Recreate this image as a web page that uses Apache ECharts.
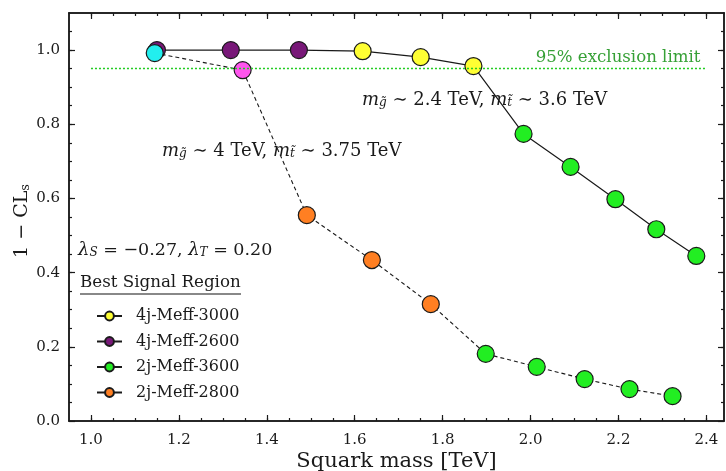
<!DOCTYPE html>
<html><head><meta charset="utf-8">
<script src="https://cdn.jsdelivr.net/npm/echarts@6/dist/echarts.min.js"></script>
<style>html,body{margin:0;padding:0;background:#fff}#c{width:726px;height:471px}</style>
</head><body><div id="c"></div>
<script>
// ---- data ----
const upperX = [1.150, 1.318, 1.473, 1.618, 1.750, 1.870, 1.984, 2.091, 2.193, 2.286, 2.377];
const upperY = [1.000, 1.000, 1.000, 0.997, 0.981, 0.957, 0.774, 0.685, 0.598, 0.517, 0.445];
const upperRegion = ['4j-Meff-2600','4j-Meff-2600','4j-Meff-2600','4j-Meff-3000','4j-Meff-3000','4j-Meff-3000',
  '2j-Meff-3600','2j-Meff-3600','2j-Meff-3600','2j-Meff-3600','2j-Meff-3600'];
const lowerX = [1.145, 1.345, 1.491, 1.639, 1.773, 1.898, 2.014, 2.123, 2.225, 2.323];
const lowerY = [0.992, 0.946, 0.555, 0.434, 0.315, 0.181, 0.146, 0.113, 0.086, 0.067];
const lowerRegion = ['other-cyan','other-magenta','2j-Meff-2800','2j-Meff-2800','2j-Meff-2800',
  '2j-Meff-3600','2j-Meff-3600','2j-Meff-3600','2j-Meff-3600','2j-Meff-3600'];
const legendRegions = ['4j-Meff-3000','4j-Meff-2600','2j-Meff-3600','2j-Meff-2800'];
const xTicks = [1.0, 1.2, 1.4, 1.6, 1.8, 2.0, 2.2, 2.4];
const yTicks = [0.0, 0.2, 0.4, 0.6, 0.8, 1.0];
const xMinorTicks = [1.0,1.05,1.1,1.15,1.2,1.25,1.3,1.35,1.4,1.45,1.5,1.55,1.6,1.65,1.7,1.75,1.8,1.85,1.9,1.95,2.0,2.05,2.1,2.15,2.2,2.25,2.3,2.35,2.4];
const yMinorTicks = [0.05,0.1,0.15,0.2,0.25,0.3,0.35,0.4,0.45,0.5,0.55,0.6,0.65,0.7,0.75,0.8,0.85,0.9,0.95,1.0,1.05];
const exclusionLimit = 0.95;
const exclusionRange = [1.0, 2.4];

// ---- styles ----
const regionColor = {
  '4j-Meff-3000': '#ffff33',
  '4j-Meff-2600': '#781878',
  '2j-Meff-3600': '#22ee22',
  '2j-Meff-2800': '#ff7f22',
  'other-cyan': '#22eeee',
  'other-magenta': '#ff55ee'
};
const FONT = 'DejaVu Serif';
const INK = '#1a1a1a';

const chart = echarts.init(document.getElementById('c'), null, {renderer: 'canvas'});

const XMIN = 0.95, XMAX = 2.44, YMIN = 0, YMAX = 1.1;
function xAx(pos, major, withLabel) {
  return {
    type: 'value', position: pos, min: XMIN, max: XMAX,
    axisLine: {show: true, onZero: false, lineStyle: {color: INK, width: 1.5}},
    axisTick: {show: true, inside: true, length: major ? 6 : 3, customValues: major ? xTicks : xMinorTicks, lineStyle: {color: INK, width: 1.2}},
    axisLabel: withLabel ? {show: true, customValues: xTicks, formatter: v => v.toFixed(1), fontFamily: FONT, fontSize: 15, color: INK, margin: 12} : {show: false},
    splitLine: {show: false},
    name: withLabel ? 'Squark mass [TeV]' : '', nameLocation: 'middle', nameGap: 30, nameMoveOverlap: false,
    nameTextStyle: {fontFamily: FONT, fontSize: 21, color: INK}
  };
}
function yAx(pos, major, withLabel) {
  return {
    type: 'value', position: pos, min: YMIN, max: YMAX,
    axisLine: {show: true, onZero: false, lineStyle: {color: INK, width: 1.5}},
    axisTick: {show: true, inside: true, length: major ? 6 : 3, customValues: major ? yTicks : yMinorTicks, lineStyle: {color: INK, width: 1.2}},
    axisLabel: withLabel ? {show: true, customValues: yTicks, formatter: v => v.toFixed(1), fontFamily: FONT, fontSize: 15, color: INK, margin: 9} : {show: false},
    splitLine: {show: false},
    name: withLabel ? '1 − CL{s|s}' : '', nameLocation: 'middle', nameGap: 37, nameRotate: 90, nameMoveOverlap: false,
    nameTextStyle: {fontFamily: FONT, fontSize: 19, color: INK, padding: [0, 8, 0, 0], rich: {s: {fontFamily: FONT, fontSize: 13, color: INK, verticalAlign: 'bottom', lineHeight: 12}}}
  };
}

function pts(xs, ys, regs) {
  return xs.map((x, i) => ({value: [x, ys[i]], itemStyle: {color: regionColor[regs[i]]}}));
}

const legendSeries = legendRegions.map(name => ({
  name, type: 'line', data: [], symbol: 'circle', symbolSize: 10,
  itemStyle: {color: regionColor[name], borderColor: INK, borderWidth: 1},
  lineStyle: {color: INK, width: 1.5}
}));

const subRich = {
  m: {fontFamily: FONT, fontStyle: 'italic', fontSize: 18},
  s: {fontFamily: FONT, fontStyle: 'italic', fontSize: 12, verticalAlign: 'bottom', lineHeight: 11}
};

const option = {
  animation: false,
  backgroundColor: '#fff',
  grid: {left: 69, right: 2, top: 13, bottom: 50, containLabel: false, outerBoundsMode: 'none'},
  xAxis: [xAx('bottom', true, true), xAx('bottom', false, false), xAx('top', true, false), xAx('top', false, false)],
  yAxis: [yAx('left', true, true), yAx('left', false, false), yAx('right', true, false), yAx('right', false, false)],
  legend: {
    data: legendRegions, orient: 'vertical', left: 96, top: 308, padding: 0,
    itemWidth: 25, itemHeight: 11, itemGap: 9.5,
    textStyle: {fontFamily: FONT, fontSize: 16, color: INK, lineHeight: 16, padding: [0, 0, 0, 9]},
    selectedMode: false
  },
  series: [
    {
      name: 'upper', type: 'line', data: pts(upperX, upperY, upperRegion),
      symbol: 'circle', symbolSize: 17, z: 3,
      lineStyle: {color: INK, width: 1.2},
      itemStyle: {borderColor: INK, borderWidth: 1.2},
      markLine: {
        silent: true, symbol: ['none', 'none'],
        lineStyle: {color: '#22cc22', type: [2, 2], width: 1.3},
        label: {show: true, position: 'insideEndTop', formatter: '95% exclusion limit', fontFamily: FONT, fontSize: 16.6, color: '#36a036', distance: 2, padding: [0, 4, 0, 0]},
        data: [[{coord: [exclusionRange[0], exclusionLimit]}, {coord: [exclusionRange[1], exclusionLimit]}]]
      }
    },
    {
      name: 'lower', type: 'line', data: pts(lowerX, lowerY, lowerRegion),
      symbol: 'circle', symbolSize: 17, z: 4,
      lineStyle: {color: INK, width: 1.1, type: [4, 3]},
      itemStyle: {borderColor: INK, borderWidth: 1.2}
    },
    ...legendSeries
  ],
  graphic: [
    {type: 'text', left: 362, top: 91, style: {
      text: '{m|m}{s|g̃} ∼ 2.4 TeV, {m|m}{s|t̃} ∼ 3.6 TeV', fill: INK, font: '18px "DejaVu Serif"', rich: subRich}},
    {type: 'text', left: 162, top: 142, style: {
      text: '{m|m}{s|g̃} ∼ 4 TeV, {m|m}{s|t̃} ∼ 3.75 TeV', fill: INK, font: '18px "DejaVu Serif"', rich: subRich}},
    {type: 'text', left: 78, top: 241, style: {
      text: '{m|λ}{s|S} = −0.27, {m|λ}{s|T} = 0.20', fill: INK, font: '17.5px "DejaVu Serif"', rich: subRich}},
    {type: 'text', left: 80, top: 274, style: {text: 'Best Signal Region', fill: INK, font: '16.7px "DejaVu Serif"'}},
    {type: 'line', shape: {x1: 80, y1: 294, x2: 241, y2: 294}, style: {stroke: '#888', lineWidth: 2}}
  ]
};
chart.setOption(option);
</script></body></html>
